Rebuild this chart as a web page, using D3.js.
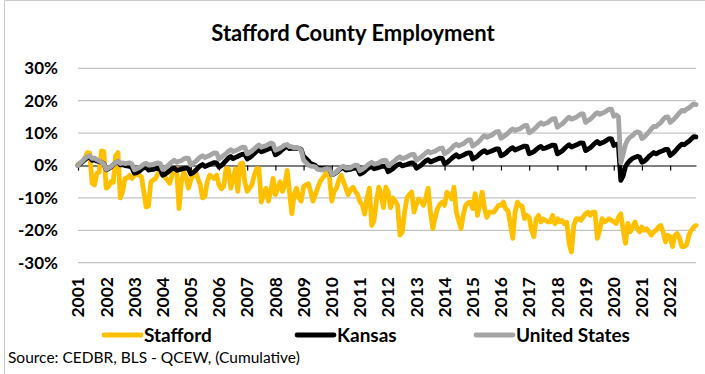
<!DOCTYPE html>
<html>
<head>
<meta charset="utf-8">
<script src="https://cdn.jsdelivr.net/npm/d3@7"></script>
<style>
  html, body { margin: 0; padding: 0; background: #fff; }
  svg { display: block; font-family: Lato, "Open Sans", sans-serif; }
</style>
</head>
<body>
<svg id="chart" width="705" height="374"></svg>
<script>
// Year tick labels (one per January)
const yearLabels = ["2001","2002","2003","2004","2005","2006","2007","2008","2009","2010","2011",
                    "2012","2013","2014","2015","2016","2017","2018","2019","2020","2021","2022"];
const yTickValues = [-30, -20, -10, 0, 10, 20, 30];

// Cumulative employment change (%), Jan..Dec for each year
const staffordByYear = [
  [0.3, 0.8, 1.2, 2.5, 4.0, 3.8, -5.5, -6.0, -2.5, -2.0, 4.5, 4.3],
  [-7.0, -6.5, -5.0, -5.2, 3.0, 4.0, -10.0, -8.0, -4.0, -3.8, -3.0, -4.0],
  [-3.0, -2.5, -3.0, -3.5, -8.0, -12.8, -12.5, -5.0, -4.5, -4.0, -2.5, -2.0],
  [-2.0, -3.6, -4.5, -5.5, -3.0, -1.0, -1.0, -13.3, -5.0, -2.0, -3.5, -7.0],
  [-4.5, -3.0, -1.5, -4.0, -6.0, -10.0, -9.5, -5.0, -3.0, -3.5, -4.0, -3.0],
  [-6.0, -7.2, -6.5, -1.0, -1.0, -7.0, -4.0, -1.0, -8.0, 0.5, 0.8, -5.0],
  [-8.0, -7.0, -6.0, -3.0, -1.0, -1.0, -11.3, -9.0, -7.0, -11.0, -8.0, -4.0],
  [-9.0, -7.0, -5.0, -8.0, -6.0, -1.5, -8.0, -14.9, -9.0, -7.0, -10.0, -11.0],
  [-6.5, -6.0, -5.6, -8.0, -11.0, -9.0, -7.0, -5.0, -4.0, -3.0, -1.5, -3.5],
  [-11.0, -8.0, -7.0, -4.5, -3.0, -5.0, -7.0, -9.0, -7.5, -6.7, -8.0, -9.0],
  [-11.3, -12.0, -15.0, -10.0, -7.0, -18.5, -17.0, -11.0, -6.7, -9.0, -13.0, -6.7],
  [-8.2, -13.0, -10.0, -11.0, -12.3, -21.5, -20.5, -14.4, -10.0, -9.0, -8.2, -14.4],
  [-12.0, -10.3, -11.0, -12.3, -10.0, -7.0, -14.4, -19.5, -16.0, -13.3, -12.0, -11.3],
  [-12.3, -8.2, -9.0, -10.3, -6.7, -14.4, -17.0, -19.5, -15.0, -12.3, -11.5, -11.3],
  [-13.3, -8.7, -15.4, -12.0, -8.2, -13.3, -16.0, -14.4, -14.4, -14.4, -13.3, -12.3],
  [-12.3, -11.3, -13.3, -14.0, -18.0, -22.5, -14.4, -11.3, -12.3, -12.5, -16.4, -15.4],
  [-16.0, -20.0, -22.0, -16.4, -15.4, -17.4, -16.5, -17.0, -17.4, -17.4, -15.4, -18.0],
  [-16.4, -17.4, -17.0, -18.0, -17.5, -24.0, -26.7, -18.5, -16.4, -16.5, -16.9, -15.9],
  [-14.9, -14.4, -15.4, -14.4, -14.4, -22.5, -20.0, -16.4, -17.4, -17.0, -16.4, -16.9],
  [-17.4, -17.9, -16.0, -14.9, -20.0, -24.0, -17.9, -20.5, -19.0, -17.4, -19.5, -20.5],
  [-19.0, -20.0, -19.5, -20.5, -21.5, -20.5, -20.0, -19.0, -18.5, -20.5, -23.6, -21.5],
  [-22.0, -25.0, -21.5, -21.0, -22.5, -25.0, -25.0, -24.5, -21.5, -20.0, -19.0, -18.5]
];

const kansasByYear = [
  [0.0, 0.6, 1.2, 1.8, 2.4, 2.6, 1.6, 1.7, 1.4, 1.2, 1.0, 0.6],
  [-1.3, -1.0, -0.5, 0.2, 0.8, 1.2, 0.2, 0.3, 0.0, -0.1, -0.3, -0.7],
  [-2.4, -2.2, -1.8, -1.2, -0.7, -0.5, -1.4, -1.3, -1.2, -1.0, -0.9, -1.2],
  [-3.0, -2.7, -2.2, -1.6, -1.0, -0.8, -1.5, -1.3, -1.1, -0.9, -0.8, -1.0],
  [-2.6, -2.2, -1.6, -0.8, -0.1, 0.3, -0.3, 0.0, 0.3, 0.6, 0.9, 0.8],
  [-0.5, 0.0, 0.7, 1.5, 2.3, 2.8, 2.1, 2.5, 2.8, 3.2, 3.5, 3.4],
  [2.0, 2.4, 3.0, 3.7, 4.4, 4.9, 4.2, 4.5, 4.8, 5.1, 5.4, 5.3],
  [3.3, 3.7, 4.2, 4.9, 5.5, 5.9, 5.2, 5.4, 5.3, 5.4, 5.3, 4.9],
  [2.8, 2.2, 1.4, 0.6, 0.3, 0.0, -0.8, -0.8, -0.9, -0.8, -0.8, -1.0],
  [-2.8, -2.6, -2.1, -1.4, -0.9, -0.7, -1.4, -1.3, -1.2, -0.9, -0.8, -1.0],
  [-2.6, -2.3, -1.8, -1.1, -0.6, -0.3, -1.0, -0.8, -0.6, -0.3, -0.2, -0.3],
  [-1.9, -1.5, -1.0, -0.3, 0.2, 0.5, -0.1, 0.1, 0.3, 0.6, 0.8, 0.7],
  [-0.8, -0.4, 0.1, 0.8, 1.4, 1.8, 1.1, 1.4, 1.7, 2.0, 2.3, 2.2],
  [0.5, 0.9, 1.5, 2.2, 2.8, 3.3, 2.6, 2.9, 3.2, 3.6, 3.9, 3.9],
  [2.0, 2.4, 2.9, 3.6, 4.2, 4.6, 3.9, 4.2, 4.5, 4.8, 5.1, 5.1],
  [3.0, 3.3, 3.8, 4.5, 5.1, 5.5, 4.8, 5.1, 5.4, 5.7, 6.0, 5.9],
  [3.6, 3.9, 4.3, 4.9, 5.5, 5.9, 5.2, 5.4, 5.7, 6.0, 6.3, 6.2],
  [3.6, 4.0, 4.5, 5.2, 5.9, 6.4, 5.7, 6.0, 6.3, 6.7, 7.0, 6.9],
  [4.6, 5.0, 5.5, 6.2, 6.9, 7.4, 6.7, 7.0, 7.3, 7.8, 8.3, 8.2],
  [6.2, 6.6, 6.0, -4.6, -3.2, -0.3, 0.8, 1.6, 2.2, 2.5, 2.8, 2.6],
  [1.0, 1.3, 2.0, 2.8, 3.4, 4.0, 3.6, 4.0, 4.3, 4.6, 5.0, 5.0],
  [3.1, 3.6, 4.3, 5.2, 6.0, 6.6, 6.4, 7.0, 7.5, 8.2, 8.9, 8.8]
];

const usByYear = [
  [0.0, 0.8, 1.4, 2.2, 2.8, 3.0, 2.2, 2.3, 1.8, 1.4, 1.0, 0.5],
  [-1.2, -0.8, -0.3, 0.3, 0.9, 1.3, 0.6, 0.8, 0.6, 0.7, 0.8, 0.4],
  [-1.3, -1.0, -0.7, -0.2, 0.4, 0.7, 0.1, 0.3, 0.3, 0.6, 0.8, 0.6],
  [-1.2, -0.8, -0.2, 0.5, 1.1, 1.6, 1.0, 1.3, 1.5, 2.0, 2.3, 2.2],
  [0.2, 0.7, 1.2, 1.9, 2.6, 3.0, 2.4, 2.8, 3.1, 3.5, 3.9, 3.8],
  [2.0, 2.5, 3.1, 3.7, 4.4, 4.9, 4.3, 4.6, 4.9, 5.3, 5.7, 5.6],
  [3.6, 4.0, 4.5, 5.1, 5.8, 6.3, 5.6, 5.9, 6.1, 6.5, 6.9, 6.7],
  [4.7, 5.0, 5.3, 5.8, 6.3, 6.5, 5.8, 5.8, 5.5, 5.6, 5.3, 4.7],
  [1.6, 0.9, 0.2, -0.2, -0.3, -0.4, -1.2, -1.3, -1.4, -1.1, -1.0, -1.1],
  [-2.8, -2.5, -2.0, -1.2, -0.5, -0.2, -0.8, -0.8, -0.7, -0.2, 0.1, 0.0],
  [-1.6, -1.2, -0.7, 0.0, 0.6, 1.0, 0.4, 0.6, 0.8, 1.3, 1.6, 1.6],
  [0.0, 0.5, 1.0, 1.6, 2.3, 2.7, 2.1, 2.4, 2.6, 3.1, 3.4, 3.4],
  [1.6, 2.1, 2.6, 3.2, 3.9, 4.4, 3.9, 4.2, 4.4, 4.9, 5.3, 5.4],
  [3.6, 4.1, 4.6, 5.3, 6.1, 6.6, 6.1, 6.4, 6.7, 7.3, 7.8, 7.9],
  [6.0, 6.5, 7.0, 7.7, 8.6, 9.2, 8.7, 9.0, 9.3, 9.9, 10.4, 10.5],
  [8.4, 8.9, 9.4, 10.0, 10.8, 11.3, 10.8, 11.1, 11.3, 11.8, 12.3, 12.4],
  [10.1, 10.6, 11.1, 11.8, 12.6, 13.2, 12.7, 13.0, 13.3, 13.9, 14.4, 14.5],
  [11.8, 12.3, 12.8, 13.5, 14.3, 14.9, 14.3, 14.6, 14.9, 15.4, 15.9, 15.9],
  [13.3, 13.8, 14.3, 15.0, 15.8, 16.3, 15.8, 16.1, 16.4, 16.9, 17.4, 17.4],
  [15.2, 15.6, 15.0, 0.8, 3.5, 6.5, 8.0, 8.8, 9.2, 10.0, 10.4, 10.2],
  [8.3, 8.8, 9.6, 10.4, 11.3, 12.1, 12.0, 12.7, 13.2, 14.2, 14.9, 15.0],
  [13.3, 13.9, 14.6, 15.4, 16.3, 17.0, 16.8, 17.4, 17.8, 18.4, 19.0, 18.8]
];

const seriesNames = ["Stafford", "Kansas", "United States"];
const seriesColors = ["#FFC000", "#000000", "#A5A5A5"];

// Monthly category keys, e.g. "2001-01"
const months = yearLabels.flatMap(y => d3.range(1, 13).map(m => `${y}-${String(m).padStart(2, "0")}`));
const januaries = months.filter(m => m.endsWith("-01"));

const series = [staffordByYear, kansasByYear, usByYear].map((rows, k) => ({
  name: seriesNames[k],
  color: seriesColors[k],
  values: rows.flat()
}));

const svg = d3.select("#chart");
const W = 705, H = 374;
const plot = { left: 78, right: 696, top: 68.3, bottom: 262.7 };

svg.append("rect").attr("width", W).attr("height", H).attr("fill", "#fff");

// chart frame (left and top edges)
svg.append("path")
  .attr("d", `M4.5,${H} V0.5 H${W}`)
  .attr("fill", "none").attr("stroke", "#C9C9C9").attr("stroke-width", 1);

const x = d3.scalePoint().domain(months).range([plot.left, plot.right]);
const y = d3.scaleLinear().domain([-30, 30]).range([plot.bottom, plot.top]);

// title
svg.append("text")
  .attr("x", 353).attr("y", 32)
  .attr("text-anchor", "middle").attr("dominant-baseline", "central")
  .attr("font-size", 22).attr("font-weight", 700).attr("fill", "#000")
  .text("Stafford County Employment");

// horizontal gridlines
svg.append("g").selectAll("line")
  .data(yTickValues.filter(v => v !== 0))
  .join("line")
  .attr("x1", plot.left).attr("x2", plot.right)
  .attr("y1", d => y(d)).attr("y2", d => y(d))
  .attr("stroke", "#C4C4C4").attr("stroke-width", 1.3);

// y axis labels
const yAxis = svg.append("g")
  .attr("transform", `translate(${plot.left},0)`)
  .call(d3.axisLeft(y).tickValues(yTickValues).tickSize(0).tickPadding(20).tickFormat(d => d + "%"));
yAxis.select(".domain").remove();
yAxis.selectAll("text")
  .attr("font-family", "Lato, sans-serif")
  .attr("font-size", 17).attr("font-weight", 700).attr("fill", "#000");

// x axis at 0% with yearly ticks
const xAxis = svg.append("g")
  .attr("transform", `translate(0,${y(0)})`)
  .call(d3.axisBottom(x).tickValues(januaries).tickSize(5).tickSizeOuter(0)
        .tickFormat(d => d.slice(0, 4)));
xAxis.select(".domain").attr("stroke", "#000").attr("stroke-width", 1.2);
xAxis.selectAll(".tick line").attr("stroke", "#000").attr("stroke-width", 1.2);
xAxis.selectAll(".tick text").remove();

// rotated year labels below the plot
svg.append("g").selectAll("text")
  .data(januaries)
  .join("text")
  .attr("transform", d => `translate(${x(d)},277) rotate(-90)`)
  .attr("text-anchor", "end").attr("dy", "0.36em")
  .attr("font-size", 17.5).attr("font-weight", 700).attr("fill", "#000")
  .text(d => d.slice(0, 4));

// series lines
const line = d3.line()
  .x((d, i) => x(months[i]))
  .y(d => y(d));

svg.append("g").selectAll("path")
  .data(series)
  .join("path")
  .attr("d", d => line(d.values))
  .attr("fill", "none")
  .attr("stroke", d => d.color)
  .attr("stroke-width", 4.8)
  .attr("stroke-linejoin", "round")
  .attr("stroke-linecap", "round");

// legend
const legendX = [104, 297, 476];
const legend = svg.append("g").selectAll("g")
  .data(series)
  .join("g")
  .attr("transform", (d, i) => `translate(${legendX[i]},335)`);
legend.append("line")
  .attr("x1", 0).attr("x2", 37).attr("y1", 0).attr("y2", 0)
  .attr("stroke", d => d.color).attr("stroke-width", 4.8).attr("stroke-linecap", "round");
legend.append("text")
  .attr("x", 40).attr("dy", "0.36em")
  .attr("font-size", 19).attr("font-weight", 700).attr("fill", "#000")
  .text(d => d.name);

// source note
svg.append("text")
  .attr("x", 8).attr("y", 357).attr("dy", "0.36em")
  .attr("font-size", 15.5).attr("fill", "#000")
  .text("Source: CEDBR, BLS - QCEW, (Cumulative)");
</script>
</body>
</html>
